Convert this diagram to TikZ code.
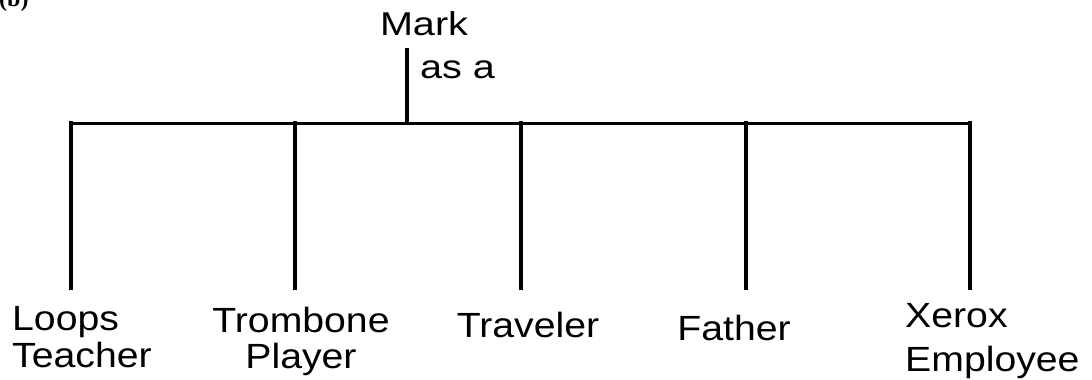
\documentclass[tikz,border=0pt]{standalone}
\usepackage{fontspec}
\newfontfamily\labfont{Liberation Sans}[FakeStretch=1.12]
\newfontfamily\topfont{Liberation Sans}[FakeStretch=1.2]
\newfontfamily\tagfont{Liberation Serif}
\begin{document}
\begin{tikzpicture}[x=1pt,y=-1pt,
  lab/.style={font=\labfont\fontsize{35}{37}\selectfont, inner sep=0pt},
  toplab/.style={font=\topfont\fontsize{33}{38}\selectfont, inner sep=0pt},
  conn/.style={line width=3.4pt, line cap=rect}]
\useasboundingbox (0,0) rectangle (1092,380);
\node[font=\tagfont\bfseries\fontsize{24}{26}\selectfont, anchor=base west, inner sep=0pt] (tag) at (-1,6) {(b)};
\node[toplab, anchor=base] (mark) at (424,35) {Mark};
\node[toplab, anchor=base west] (asa) at (420,78) {as a};
\node[lab, anchor=base west, align=left, font=\labfont\fontsize{35}{37}\selectfont] (n1) at (12,367) {Loops\\Teacher};
\node[lab, anchor=base, align=center, font=\labfont\fontsize{35}{36}\selectfont] (n2) at (301,368) {Trombone\\Player};
\node[lab, anchor=base] (n3) at (528,337) {Traveler};
\node[lab, anchor=base] (n4) at (734,340) {Father};
\node[lab, anchor=base west, align=left, font=\labfont\fontsize{35}{44}\selectfont] (n5) at (905,371) {Xerox\\Employee};
\coordinate (s0) at (407,50);
\coordinate (j0) at (407,123);
\coordinate (t1) at (71,123); \coordinate (b1) at (71,288);
\coordinate (t2) at (295,123); \coordinate (b2) at (295,288);
\coordinate (t3) at (521,123); \coordinate (b3) at (521,288);
\coordinate (t4) at (746,123); \coordinate (b4) at (746,288);
\coordinate (t5) at (970,123); \coordinate (b5) at (970,288);
\draw[conn] (s0) -- (j0);
\draw[conn, line width=3pt] (t1) -- (t5);
\foreach \i in {1,...,5} \draw[conn] (t\i) -- (b\i);
\end{tikzpicture}
\end{document}
